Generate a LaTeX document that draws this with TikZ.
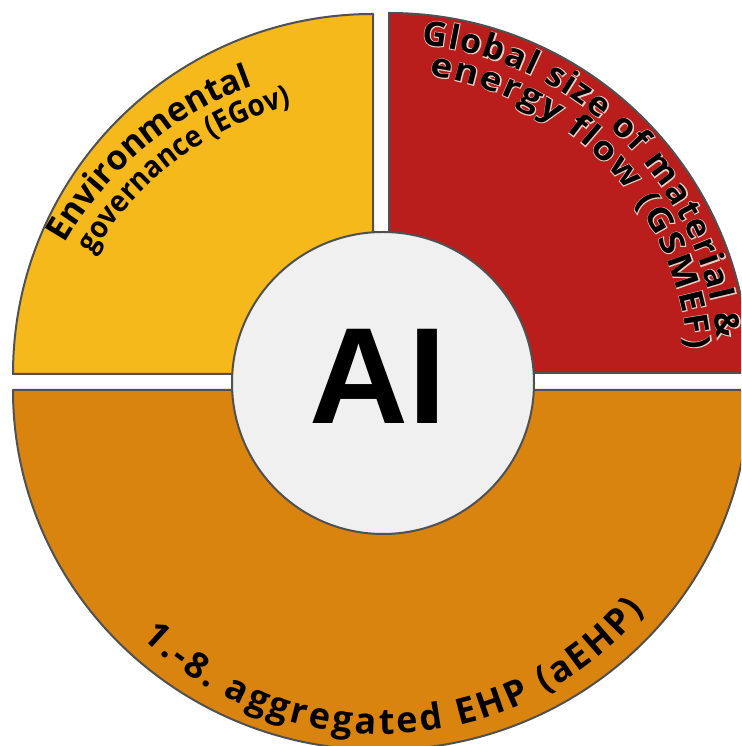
\documentclass[tikz,border=0pt]{standalone}
\usepackage{fontspec}
\setmainfont{Open Sans}
\newfontfamily\halofont[FakeBold=5]{Open Sans}
\newfontfamily\widefont[FakeStretch=1.12]{Open Sans}
\newfontfamily\widehalo[FakeStretch=1.12,FakeBold=5]{Open Sans}
\newfontfamily\narrowfont[FakeStretch=0.92]{Open Sans}
\newfontfamily\aifont{Liberation Sans}
\usetikzlibrary{decorations.text}
\definecolor{cyellow}{RGB}{246,185,27}
\definecolor{cred}{RGB}{185,30,28}
\definecolor{corange}{RGB}{218,132,16}
\definecolor{ccore}{RGB}{240,240,240}
\definecolor{cedge}{RGB}{80,80,80}
\definecolor{chalo}{RGB}{240,205,195}
\begin{document}
\begin{tikzpicture}[x=1pt,y=1pt,
  sector/.style={draw=cedge, line width=2pt, line join=round},
  arclabel/.style={decorate, decoration={text along path, text align={fit to path}, text={#1}}},
  midlabel/.style={decorate, decoration={text along path, text align=center, text={#1}}}]
\useasboundingbox (0,0) rectangle (741,746);
\clip (0,0) rectangle (741,746);
% sectors
\path[sector, fill=cyellow] (373,372) -- (13,372) arc[start angle=180, end angle=90, radius=360] -- cycle;
\path[sector, fill=cred] (389,373) -- (389,733) arc[start angle=90, end angle=0, radius=360] -- cycle;
\path[sector, fill=corange] (13,356) -- (749,356) arc[start angle=0, end angle=-180, x radius=368, y radius=360] -- cycle;
% core
\node[circle, draw=cedge, fill=ccore, line width=2pt, minimum size=302pt, inner sep=0pt] (core) at (383,363) {};
\node[inner sep=0pt] (ai) at (378,370) {\aifont\bfseries\fontsize{137}{137}\selectfont AI};
% yellow labels
\path[midlabel={|\bfseries\fontsize{34}{34}\selectfont|Environmental}]
  (373,326) ++(175:355) arc[start angle=175, end angle=85, radius=355];
\path[midlabel={|\narrowfont\bfseries\fontsize{30}{30}\selectfont|governance (EGov)}]
  (373,326) ++(172:325) arc[start angle=172, end angle=82, radius=325];
% red labels (light halo, then black)
\path[arclabel={|\halofont\bfseries\fontsize{34}{34}\selectfont\color{chalo}|Global size of material {\&}}]
  (389,373) ++(84.4:330) arc[start angle=84.4, end angle=6, radius=330];
\path[arclabel={|\bfseries\fontsize{34}{34}\selectfont|Global size of material {\&}}]
  (389,373) ++(84.4:330) arc[start angle=84.4, end angle=6, radius=330];
\path[arclabel={|\widehalo\bfseries\fontsize{33}{33}\selectfont\color{chalo}|energy flow (GSMEF)}]
  (389,373) ++(82.3:300) arc[start angle=82.3, end angle=4.5, radius=300];
\path[arclabel={|\widefont\bfseries\fontsize{33}{33}\selectfont|energy flow (GSMEF)}]
  (389,373) ++(82.3:300) arc[start angle=82.3, end angle=4.5, radius=300];
% orange label
\path[arclabel={|\bfseries\fontsize{36}{36}\selectfont|1.-8. aggregated EHP (aEHP)}]
  (381,356) ++(-134:344) arc[start angle=-134, end angle=-39.9, radius=344];
\end{tikzpicture}
\end{document}
